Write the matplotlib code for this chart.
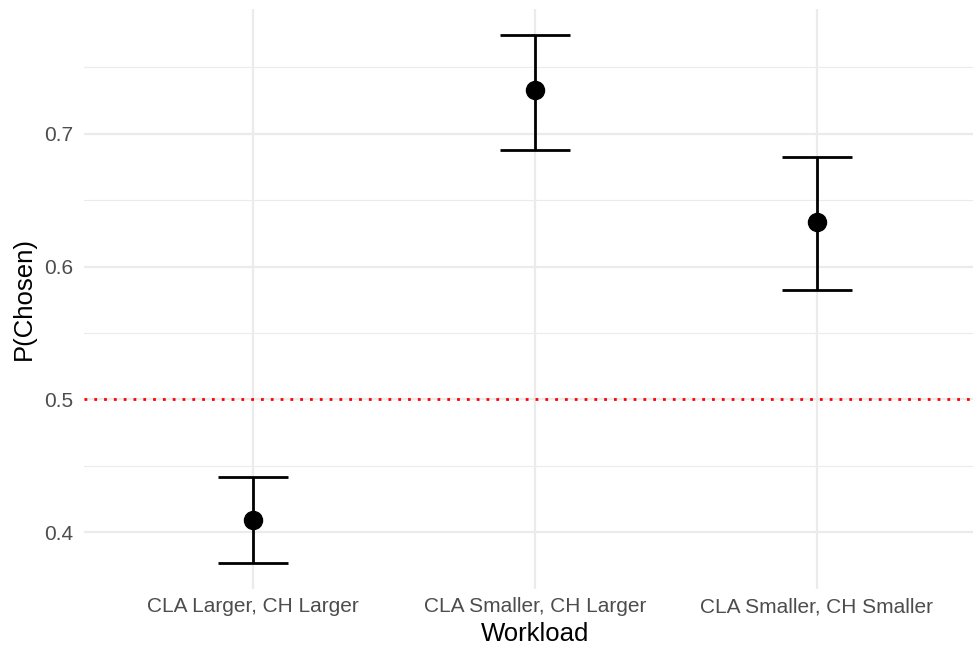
import numpy as np
import matplotlib
matplotlib.use("Agg")
import matplotlib.pyplot as plt
from matplotlib.ticker import MultipleLocator

plt.rcParams['font.family'] = ['Liberation Sans', 'DejaVu Sans']

# data
workloads = ["CLA Larger, CH Larger", "CLA Smaller, CH Larger", "CLA Smaller, CH Smaller"]
p_chosen = [0.409, 0.7327, 0.6338]
ci_low = [0.377, 0.6881, 0.5824]
ci_high = [0.4417, 0.7742, 0.6829]
chance = 0.5

fig = plt.figure(figsize=(9.73, 6.47), dpi=100)
# panel runs a bit past the right edge, like the reference crop
ax = fig.add_axes([84 / 973, (647 - 589) / 647, (986 - 84) / 973, 580 / 647])

x = np.arange(len(workloads))
p = np.array(p_chosen)
yerr = [p - np.array(ci_low), np.array(ci_high) - p]

ax.axhline(chance, color='red', lw=2, linestyle=(0, (1, 2.53)), zorder=2)
ax.errorbar(x, p, yerr=yerr, fmt='o', color='black', ms=13, lw=2,
            capsize=25.2, capthick=2, zorder=3)

ax.set_xlim(-0.6, 2.6)
lo, hi = min(ci_low), max(ci_high)
pad = (hi - lo) * 0.05
ax.set_ylim(lo - pad, hi + pad)

ax.set_xticks(x)
ax.set_xticklabels(workloads)
ax.yaxis.set_major_locator(MultipleLocator(0.1))
ax.yaxis.set_minor_locator(MultipleLocator(0.05))
ax.yaxis.set_major_formatter(matplotlib.ticker.FormatStrFormatter('%.1f'))

ax.grid(True, which='major', color='#EBEBEB', lw=1.6, zorder=0)
ax.grid(True, which='minor', axis='y', color='#EBEBEB', lw=0.8, zorder=0)
ax.set_axisbelow(True)
for s in ax.spines.values():
    s.set_visible(False)
ax.tick_params(which='both', length=0)
ax.tick_params(axis='y', pad=8, labelsize=15, labelcolor='#4D4D4D')
ax.tick_params(axis='x', pad=6, labelsize=15, labelcolor='#4D4D4D')

ax.set_xlabel("Workload", fontsize=18.5, labelpad=4)
ax.set_ylabel("P(Chosen)", fontsize=18.5, labelpad=6)

fig.savefig("out.png", dpi=100)
